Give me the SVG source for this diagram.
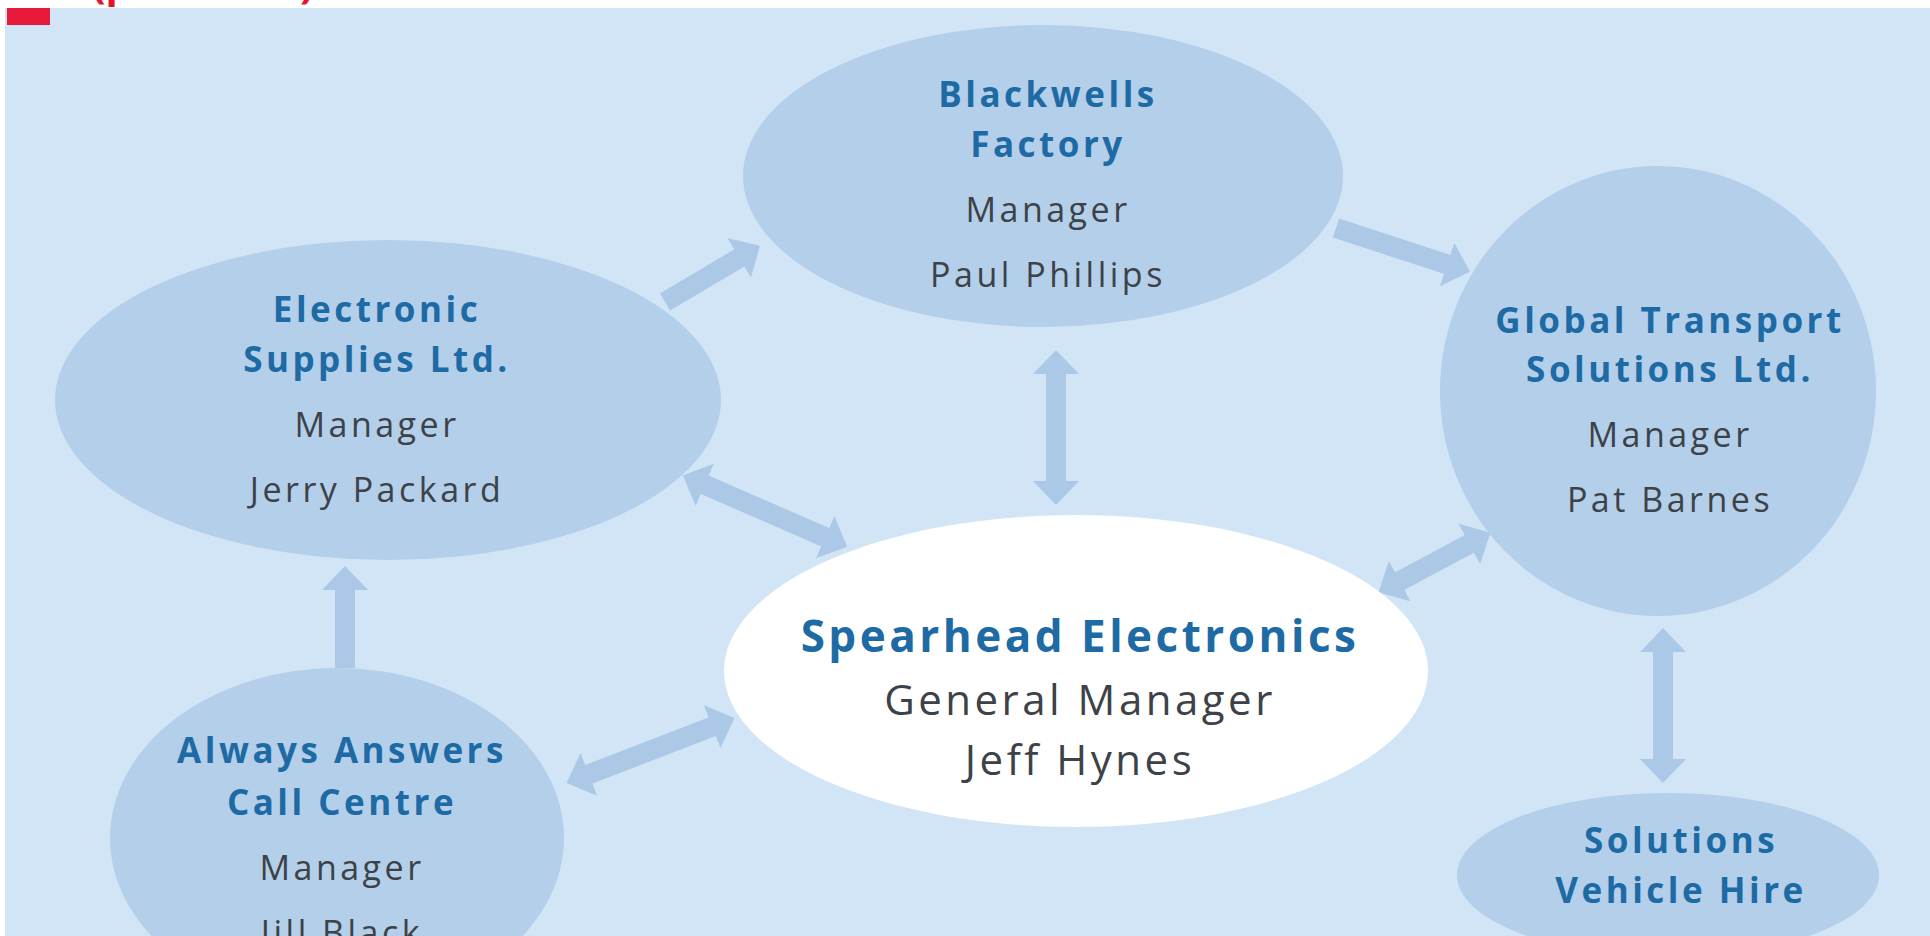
<svg xmlns="http://www.w3.org/2000/svg" width="1930" height="936" viewBox="0 0 1930 936">
<defs>
<marker id="ah" viewBox="0 -1.15 1.2 2.3" markerWidth="1.2" markerHeight="2.3" refX="0.1" refY="0" orient="auto-start-reverse" markerUnits="strokeWidth">
<path d="M0,-1.15 L1.2,0 L0,1.15 Z" fill="#abc9e7"/>
</marker>
<style>
.bg{fill:#d2e5f6}
.node{fill:#b4cfe9}
.main{fill:#ffffff}
.ttl{font-family:"Open Sans","Liberation Sans",sans-serif;font-weight:bold;font-size:35px;letter-spacing:3.5px;fill:#1d6aa5;text-anchor:middle}
.sub{font-family:"Open Sans","Liberation Sans",sans-serif;font-size:34px;letter-spacing:3.5px;fill:#3d4248;text-anchor:middle}
.bigt{font-size:44px}
.bigs{font-size:42px}
.con{stroke:#abc9e7;stroke-width:20;fill:none}
.red{font-family:"Open Sans","Liberation Sans",sans-serif;font-weight:bold;font-size:40px;fill:#e8102a}
</style>
</defs>
<rect width="1930" height="936" fill="#ffffff"/>
<rect x="5" y="8" width="1925" height="928" class="bg"/>
<rect x="7" y="8" width="43" height="17" fill="#e8183a"/>
<text class="red" x="92" y="-2">(p</text>
<text class="red" x="300" y="-2">)</text>

<g id="connectors">
<line class="con" x1="665" y1="302" x2="741" y2="257" marker-end="url(#ah)"/>
<line class="con" x1="1336" y1="228" x2="1449" y2="265" marker-end="url(#ah)"/>
<line class="con" x1="1056" y1="372" x2="1056" y2="483" marker-start="url(#ah)" marker-end="url(#ah)"/>
<line class="con" x1="703" y1="484" x2="827" y2="538" marker-start="url(#ah)" marker-end="url(#ah)"/>
<line class="con" x1="1398" y1="582" x2="1471" y2="543" marker-start="url(#ah)" marker-end="url(#ah)"/>
<line class="con" x1="587" y1="775" x2="714" y2="726" marker-start="url(#ah)" marker-end="url(#ah)"/>
<line class="con" x1="345" y1="668" x2="345" y2="588" marker-end="url(#ah)"/>
<line class="con" x1="1663" y1="650" x2="1663" y2="761" marker-start="url(#ah)" marker-end="url(#ah)"/>
</g>

<g id="blackwells">
<ellipse class="node" cx="1043" cy="176" rx="300" ry="151"/>
<text class="ttl" x="1048" y="107">Blackwells</text>
<text class="ttl" x="1048" y="157">Factory</text>
<text class="sub" x="1048" y="222">Manager</text>
<text class="sub" x="1048" y="287">Paul Phillips</text>
</g>

<g id="electronic">
<ellipse class="node" cx="388" cy="400" rx="333" ry="160"/>
<text class="ttl" x="377" y="322">Electronic</text>
<text class="ttl" x="377" y="372">Supplies Ltd.</text>
<text class="sub" x="377" y="437">Manager</text>
<text class="sub" x="377" y="502">Jerry Packard</text>
</g>

<g id="global">
<ellipse class="node" cx="1658" cy="391" rx="218" ry="225"/>
<text class="ttl" x="1670" y="333">Global Transport</text>
<text class="ttl" x="1670" y="382">Solutions Ltd.</text>
<text class="sub" x="1670" y="447">Manager</text>
<text class="sub" x="1670" y="512">Pat Barnes</text>
</g>

<g id="spearhead">
<ellipse class="main" cx="1076" cy="671" rx="352" ry="156"/>
<text class="ttl bigt" x="1080" y="652">Spearhead Electronics</text>
<text class="sub bigs" x="1080" y="715">General Manager</text>
<text class="sub bigs" x="1080" y="775">Jeff Hynes</text>
</g>

<g id="always">
<ellipse class="node" cx="337" cy="838" rx="227" ry="170"/>
<text class="ttl" x="342" y="763">Always Answers</text>
<text class="ttl" x="342" y="815">Call Centre</text>
<text class="sub" x="342" y="880">Manager</text>
<text class="sub" x="342" y="945">Jill Black</text>
</g>

<g id="vehicle">
<ellipse class="node" cx="1668" cy="875" rx="211" ry="82"/>
<text class="ttl" x="1681" y="853">Solutions</text>
<text class="ttl" x="1681" y="903">Vehicle Hire</text>
</g>
</svg>
